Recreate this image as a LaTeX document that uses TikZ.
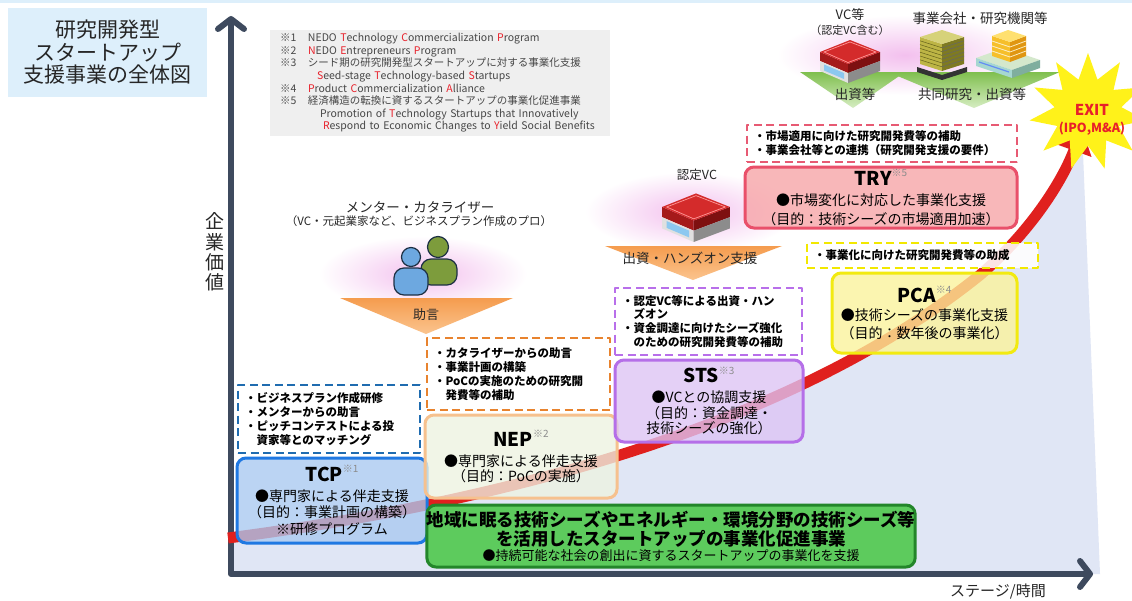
\documentclass[tikz,border=0pt]{standalone}
\usepackage{fontspec}
\setmainfont{Noto Sans CJK JP}
\usetikzlibrary{arrows.meta,shapes.geometric}

\definecolor{axisc}{HTML}{3E4A5E}
\definecolor{arrowred}{HTML}{E0201E}
\definecolor{inired}{HTML}{E8202A}
\definecolor{topband}{HTML}{DDEFFB}
\definecolor{titlefill}{HTML}{DDEFFB}
\definecolor{notefill}{HTML}{EFEFEF}
\definecolor{plotbg}{HTML}{E0E6F5}
\definecolor{glow}{HTML}{F3C0EE}
\definecolor{orangetop}{HTML}{F59C4E}
\definecolor{orangebot}{HTML}{FBC48E}
\definecolor{greentop}{HTML}{7FBF4E}
\definecolor{greenbot}{HTML}{D6EDC2}
\definecolor{staryellow}{HTML}{FFF21A}
\definecolor{tryfill}{HTML}{F7A3A6}
\definecolor{trydraw}{HTML}{E9506A}
\definecolor{trydash}{HTML}{E75A73}
\definecolor{pcafill}{HTML}{FBF39A}
\definecolor{pcadraw}{HTML}{F2EA10}
\definecolor{pcadash}{HTML}{F2E800}
\definecolor{stsfill}{HTML}{DDC4F4}
\definecolor{stsdraw}{HTML}{B56FE8}
\definecolor{stsdash}{HTML}{B86FEA}
\definecolor{nepfill}{HTML}{EEF3E1}
\definecolor{nepdraw}{HTML}{F6C18E}
\definecolor{nepdash}{HTML}{E8832E}
\definecolor{tcpfill}{HTML}{A9C9F0}
\definecolor{tcpdraw}{HTML}{1F78E2}
\definecolor{tcpdash}{HTML}{1F6CB0}
\definecolor{greenfill}{HTML}{5DCB5D}
\definecolor{greendraw}{HTML}{23862A}
\definecolor{roofred}{HTML}{D42B2B}
\definecolor{wallred}{HTML}{A51A1A}
\definecolor{walldark}{HTML}{7E1010}
\definecolor{winblue}{HTML}{8CC8F0}
\definecolor{olivea}{HTML}{D6D27A}
\definecolor{oliveb}{HTML}{BDB545}
\definecolor{olivec}{HTML}{7E7A22}
\definecolor{golda}{HTML}{FFE070}
\definecolor{goldb}{HTML}{F6BF2A}
\definecolor{goldc}{HTML}{E09612}
\definecolor{minta}{HTML}{D4E8CC}
\definecolor{mintb}{HTML}{A6D7D0}
\definecolor{mintc}{HTML}{7FAE9E}
\definecolor{persblue}{HTML}{6DA8E0}
\definecolor{persgreen}{HTML}{7D9C3C}
\definecolor{persline}{HTML}{1D3044}

\newcommand{\supnote}[1]{\raisebox{0.62em}{\fontsize{10}{10}\selectfont\mdseries\color{black!45}※#1}}
\newcommand{\redini}[1]{\textcolor{inired}{#1}}

\tikzset{
  dashbox/.style={draw=#1, line width=2.2pt, dash pattern=on 8pt off 4.5pt,
    fill=white, fill opacity=0.88, text opacity=1, align=left,
    inner xsep=7pt, inner ysep=0pt, font=\fontsize{11.5}{13.8}\selectfont\bfseries},
  solidbox/.style 2 args={draw=#2, fill=#1, line width=3pt, rounded corners=9pt,
    fill opacity=0.78, draw opacity=1, text opacity=1, align=center, inner sep=0pt},
  caption/.style={align=center, inner sep=0pt, text=black!85},
  axisline/.style={draw=axisc, line width=6pt, line join=round,
    {Straight Barb[length=10pt,width=26pt,round]}-{Straight Barb[length=10pt,width=26pt,round]}},
  growth/.style={draw=arrowred, line width=11pt, -{Triangle[length=24pt,width=36pt]}},
  glowspot/.style={inner color=glow, outer color=white},
  person/.style={draw=persline, line width=1.2pt},
}

\begin{document}
\begin{tikzpicture}[x=1pt,y=-1pt,line join=round]
\useasboundingbox (0,0) rectangle (1132,600);
\fill[white] (0,0) rectangle (1132,600);
\fill[topband] (0,0) rectangle (1132,3);

% growth curve end points
\coordinate (g0) at (228,538);
\coordinate (g1) at (980,275);
\coordinate (g2) at (1082,128);

% pale area under the growth curve
\fill[plotbg] (g0) .. controls (520,500) and (800,420) .. (g1)
  .. controls (1035,228) and (1065,175) .. (g2) -- (1100,574) -- (228,574) -- cycle;

% glows behind the supporters
\shade[glowspot] (905,55) ellipse [x radius=128, y radius=40];
\shade[glowspot] (423,274) ellipse [x radius=104, y radius=38];
\shade[glowspot] (690,212) ellipse [x radius=105, y radius=40];

% funnels
\shade[top color=orangetop, bottom color=orangebot] (340,298) -- (513,298) -- (426,334) -- cycle;
\shade[top color=orangetop, bottom color=orangebot] (605,246) -- (782,246) -- (693,280) -- cycle;
\shade[top color=greentop, bottom color=greenbot] (800,72) -- (905,72) -- (853,108) -- cycle;
\shade[top color=greentop, bottom color=greenbot] (888,72) -- (1060,72) -- (974,108) -- cycle;

% red building (VC)
\foreach \bx/\by/\bs in {850/60/1.0, 696/216/1.13}{
\begin{scope}[shift={(\bx,\by)}, scale=\bs]
  \fill[wallred] (-30,-8) -- (-2,4) -- (-2,13) -- (-30,1) -- cycle;
  \fill[walldark] (-2,4) -- (30,-8) -- (30,1) -- (-2,13) -- cycle;
  \fill[black!12] (-30,1) -- (-2,13) -- (-2,23) -- (-30,11) -- cycle;
  \fill[winblue] (-26,4.5) -- (-6,13) -- (-6,19) -- (-26,10.5) -- cycle;
  \fill[black!45] (-2,13) -- (30,1) -- (30,11) -- (-2,23) -- cycle;
  \fill[roofred] (-30,-8) -- (0,-20) -- (30,-8) -- (-2,4) -- cycle;
  \draw[red!40!white, line width=0.7pt] (-26,-8) -- (0,-18) -- (26,-8) -- (-2,2.5) -- cycle;
\end{scope}}

% olive tower (company)
\begin{scope}[shift={(942,55)}]
  \fill[black!80] (-25,12) -- (0,20) -- (25,12) -- (25,17) -- (0,25) -- (-25,17) -- cycle;
  \fill[oliveb] (-22,-18) -- (0,-11) -- (0,16) -- (-22,9) -- cycle;
  \fill[olivec] (0,-11) -- (22,-18) -- (22,9) -- (0,16) -- cycle;
  \fill[olivea] (-22,-18) -- (0,-25) -- (22,-18) -- (0,-11) -- cycle;
  \foreach \k in {1,...,6}{
    \draw[olivec!80!black, line width=0.5pt] (-22,{-18+3.8*\k}) -- (0,{-11+3.8*\k});
    \draw[black!60, line width=0.5pt] (0,{-11+3.8*\k}) -- (22,{-18+3.8*\k});}
\end{scope}

% research institute
\begin{scope}[shift={(1008,56)}]
  \fill[minta] (-32,2) -- (-4,-8) -- (32,4) -- (4,14) -- cycle;
  \fill[mintb] (-32,2) -- (4,14) -- (4,22) -- (-32,10) -- cycle;
  \fill[mintc] (4,14) -- (32,4) -- (32,12) -- (4,22) -- cycle;
  \draw[winblue!70!blue, line width=1.2pt] (-29,6) -- (1,16);
  \fill[goldb] (-16,-20) -- (2,-14) -- (2,6) -- (-16,0) -- cycle;
  \fill[goldc] (2,-14) -- (18,-20) -- (18,0) -- (2,6) -- cycle;
  \fill[golda] (-16,-20) -- (0,-26) -- (18,-20) -- (2,-14) -- cycle;
  \foreach \k in {1,2,3}{
    \draw[white!70!goldb, line width=0.8pt] (-16,{-20+5*\k}) -- (2,{-14+5*\k}) -- (18,{-20+5*\k});}
\end{scope}

% mentors
\draw[person, fill=persgreen, rounded corners=10pt] (421,285) rectangle (457,259);
\draw[person, fill=persgreen] (438,247) circle (10.5);
\draw[person, fill=persblue, rounded corners=10pt] (394,295) rectangle (428,268);
\draw[person, fill=persblue] (411,257) circle (9.5);

% axes
\coordinate (origin) at (231,574);
\coordinate (ytip) at (231,16);
\coordinate (xtip) at (1093,574);
\draw[axisline] (ytip) -- (origin) -- (xtip);

% growth arrow and exit
\draw[growth] (g0) .. controls (520,500) and (800,420) .. (g1)
  .. controls (1035,228) and (1065,175) .. (g2);
\node[star, star points=11, star point ratio=1.75, minimum size=118pt,
  fill=staryellow, inner sep=0pt] (exit) at (1088,112) {};
\node[caption, text=inired, font=\fontsize{15}{15}\selectfont\bfseries] (exittext) at (1092,110) {EXIT};
\node[caption, text=inired, font=\fontsize{12.5}{12.5}\selectfont\bfseries] (exitsub) at (1092,129) {(IPO,M\&A)};

% title and notes
\node[fill=titlefill, minimum width=199pt, minimum height=89pt, align=center,
  inner sep=0pt, text=black!85, font=\fontsize{21}{22.5}\selectfont] (title) at (107.5,52.5)
  {研究開発型\\スタートアップ\\支援事業の全体図};
\node[fill=notefill, minimum width=340pt, minimum height=106pt, text width=332pt,
  align=left, inner xsep=4pt, inner ysep=0pt, text=black!72,
  font=\fontsize{10.5}{12.6}\selectfont] (notes) at (440,83) {%
\hspace*{6pt}\makebox[28pt][l]{※1}NEDO \redini{T}echnology \redini{C}ommercialization \redini{P}rogram\\
\hspace*{6pt}\makebox[28pt][l]{※2}\redini{N}EDO \redini{E}ntrepreneurs \redini{P}rogram\\
\hspace*{6pt}\makebox[28pt][l]{※3}シード期の研究開発型スタートアップに対する事業化支援\\
\hspace*{43pt}\redini{S}eed-stage \redini{T}echnology-based \redini{S}tartups\\
\hspace*{6pt}\makebox[28pt][l]{※4}\redini{P}roduct \redini{C}ommercialization \redini{A}lliance\\
\hspace*{6pt}\makebox[28pt][l]{※5}経済構造の転換に資するスタートアップの事業化促進事業\\
\hspace*{46pt}Promotion of \redini{T}echnology Startups that Innovatively\\
\hspace*{49pt}\mbox{\redini{R}espond to Economic Changes to \redini{Y}ield Social Benefits}};

% axis labels
\node[caption, font=\fontsize{19}{20.3}\selectfont] (ylabel) at (215,252) {企\\業\\価\\値};
\node[caption, font=\fontsize{15}{15}\selectfont] (xlabel) at (998,592) {ステージ/時間};

% supporter captions
\node[caption, font=\fontsize{13.5}{14}\selectfont] (mentor) at (420,207) {メンター・カタライザー};
\node[caption, font=\fontsize{11.5}{12}\selectfont] (mentorsub) at (419,221) {（VC・元起業家など、ビジネスプラン作成のプロ）};
\node[caption, font=\fontsize{13}{13}\selectfont] (advice) at (426,315) {助言};
\node[caption, font=\fontsize{12.5}{13}\selectfont] (vcapproved) at (697,175) {認定VC};
\node[caption, font=\fontsize{13.5}{14}\selectfont] (handson) at (690,258) {出資・ハンズオン支援};
\node[caption, font=\fontsize{13}{13}\selectfont] (vcetc) at (850,15) {VC等};
\node[caption, font=\fontsize{11}{11}\selectfont] (vcetcsub) at (850,30) {（認定VC含む）};
\node[caption, font=\fontsize{13.5}{14}\selectfont] (corp) at (980,18) {事業会社・研究機関等};
\node[caption, font=\fontsize{13.5}{14}\selectfont] (invest) at (855,94) {出資等};
\node[caption, font=\fontsize{13.5}{14}\selectfont] (joint) at (972,94) {共同研究・出資等};

% support contents
\node[dashbox=tcpdash, text width=168pt, minimum height=68pt] (tcpnote) at (329,419)
  {・ビジネスプラン作成研修\\・メンターからの助言\\・ピッチコンテストによる投\\\hspace*{1em}資家等とのマッチング};
\node[dashbox=nepdash, text width=169pt, minimum height=72pt] (nepnote) at (518.5,374)
  {・カタライザーからの助言\\・事業計画の構築\\・PoCの実施のための研究開\\\hspace*{1em}発費等の補助};
\node[dashbox=stsdash, text width=173pt, minimum height=67pt] (stsnote) at (708.5,321.5)
  {・認定VC等による出資・ハン\\\hspace*{1em}ズオン\\・資金調達に向けたシーズ強化\\\hspace*{1em}のための研究開発費等の補助};
\node[dashbox=pcadash, text width=217pt, minimum height=25pt] (pcanote) at (922.5,255.5)
  {・事業化に向けた研究開発費等の助成};
\node[dashbox=trydash, text width=256pt, minimum height=37pt] (trynote) at (882,143.5)
  {・市場適用に向けた研究開発費等の補助\\・事業会社等との連携（研究開発支援の要件）};

% programmes
\node[solidbox={tcpfill}{tcpdraw}, minimum width=190pt, minimum height=85pt,
  font=\fontsize{14}{16.5}\selectfont] (tcp) at (332,500.5)
  {{\fontsize{19}{19}\selectfont\bfseries TCP}\supnote{1}\\[3.5pt]●専門家による伴走支援\\（目的：事業計画の構築）\\※研修プログラム};
\node[solidbox={nepfill}{nepdraw}, minimum width=192pt, minimum height=83pt,
  font=\fontsize{14}{15.5}\selectfont] (nep) at (521,456.5)
  {{\fontsize{19}{19}\selectfont\bfseries NEP}\supnote{2}\\[4.5pt]●専門家による伴走支援\\（目的：PoCの実施）};
\node[solidbox={stsfill}{stsdraw}, minimum width=188pt, minimum height=82pt,
  font=\fontsize{14}{15.5}\selectfont] (sts) at (709,401)
  {{\fontsize{19}{19}\selectfont\bfseries STS}\supnote{3}\\[4.5pt]●VCとの協調支援\\（目的：資金調達・\\技術シーズの強化）};
\node[solidbox={pcafill}{pcadraw}, minimum width=185pt, minimum height=80pt,
  font=\fontsize{14}{18}\selectfont] (pca) at (924.5,313)
  {{\fontsize{19}{19}\selectfont\bfseries PCA}\supnote{4}\\●技術シーズの事業化支援\\（目的：数年後の事業化）};
\node[solidbox={tryfill}{trydraw}, minimum width=272pt, minimum height=61pt,
  font=\fontsize{14}{19}\selectfont] (try) at (881,197.5)
  {{\fontsize{19}{19}\selectfont\bfseries TRY}\supnote{5}\\[1pt]●市場変化に対応した事業化支援\\（目的：技術シーズの市場適用加速）};
\node[solidbox={greenfill}{greendraw}, fill opacity=1, minimum width=482pt, minimum height=62pt,
  font=\fontsize{13}{17}\selectfont] (green) at (671,536)
  {{\fontsize{17.5}{19}\selectfont\bfseries 地域に眠る技術シーズやエネルギー・環境分野の技術シーズ等}\\[2pt]
   {\fontsize{17.5}{19}\selectfont\bfseries を活用したスタートアップの事業化促進事業}\\[-2pt]
   ●持続可能な社会の創出に資するスタートアップの事業化を支援};
\end{tikzpicture}
\end{document}
